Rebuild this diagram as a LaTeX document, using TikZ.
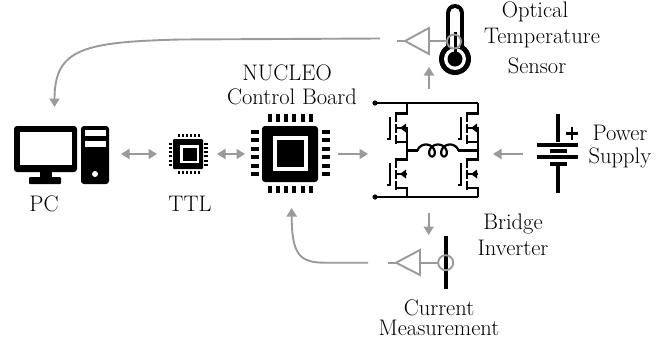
\documentclass[tikz,border=0pt]{standalone}
\usepackage{fontspec}
\usetikzlibrary{arrows.meta}
\definecolor{conn}{HTML}{9A9A9A}
\tikzset{
 lbl/.style={inner sep=0pt,font=\fontsize{22.5}{25}\selectfont,align=center},
 tight/.style={inner sep=0pt,font=\fontsize{22.5}{19.5}\selectfont,align=center},
 link/.style={draw=conn,line width=1.9pt,-{Triangle[length=8.5pt,width=10pt]}},
 duplex/.style={draw=conn,line width=1.9pt,{Triangle[length=8.5pt,width=10pt]}-{Triangle[length=8.5pt,width=10pt]}},
 amp/.style={draw=conn,line width=1.9pt,line join=miter},
 circ/.style={draw=black,line width=2.2pt},
}
\newcommand{\mosfet}[2]{%
 \begin{scope}[shift={(#1,#2)}]
  \draw[circ] (-20,139) -- (-17,139) -- (-17,117);
  \draw[circ] (-11,112) -- (-11,122) (-11,124) -- (-11,133) (-11,135) -- (-11,144);
  \draw[circ] (-11,113.5) -- (0,113.5);
  \draw[circ] (-11,142) -- (0,142);
  \draw[circ] (-11,128) -- (0,128);
  \fill (-7,128) -- (-1,123.5) -- (-1,132.5) -- cycle;
 \end{scope}}
\begin{document}
\begin{tikzpicture}[x=1pt,y=-1pt]
\useasboundingbox (0,0) rectangle (667,341);
% PC
\fill[rounded corners=3pt] (14,126) rectangle (77,172);
\fill[white] (20,132) rectangle (72,165);
\fill (40,172) rectangle (52,178);
\fill[rounded corners=1pt] (29,177) rectangle (61,184);
\fill[rounded corners=3pt] (81,126) rectangle (109,184);
\fill[white] (85,130) rectangle (106,136);
\fill[white] (85,141) rectangle (106,147);
\fill[white] (95,174) circle (3);
\coordinate (pcR) at (121,154);
\coordinate (pcTop) at (54.5,107);
\node[lbl] (pcl) at (44,204) {PC};
% TTL
\fill[rounded corners=1pt] (173,139) rectangle (203,169);
\fill[white] (180,145) rectangle (199,163);
\fill (182.5,147.5) rectangle (196.5,160.5);
\foreach \i in {0,1,2,3,4,5}{
 \fill ({177.5+\i*4},134) rectangle ({179.7+\i*4},137);
 \fill ({177.5+\i*4},171) rectangle ({179.7+\i*4},174);
 \fill (169,{142.5+\i*4.3}) rectangle (172,{144.5+\i*4.3});
 \fill (204,{142.5+\i*4.3}) rectangle (208,{144.5+\i*4.3});
}
\coordinate (ttlL) at (157,154);
\coordinate (ttlR) at (217,154);
\node[lbl] (ttll) at (190,204) {TTL};
% NUCLEO chip
\fill[rounded corners=3pt] (262,126) rectangle (318,182);
\fill[white] (273,136) rectangle (308,171);
\fill (277,140) rectangle (304,167);
\foreach \i in {0,1,2,3,4,5}{
 \fill ({267.5+\i*8.3},114) rectangle ({271.5+\i*8.3},122);
 \fill ({267.5+\i*8.3},186) rectangle ({271.5+\i*8.3},193);
 \fill (251,{130+\i*8.4}) rectangle (259,{134+\i*8.4});
 \fill (322,{130+\i*8.4}) rectangle (330,{134+\i*8.4});
}
\coordinate (chipL) at (245,154);
\coordinate (chipR) at (338,154);
\coordinate (chipB) at (291.7,208);
\node[lbl] (nuc) at (287,73) {NUCLEO};
\node[lbl] (cb) at (292,97) {Control Board};
% Bridge
\fill (375,103) circle (2.6);
\fill (375,197) circle (2.6);
\draw[circ] (375,103) -- (478,103);
\draw[circ] (375,197) -- (478,197);
\draw[circ] (407,103) -- (407,114.6);
\draw[circ] (407,127) -- (407,160.6);
\draw[circ] (407,187) -- (407,197);
\draw[circ] (478,103) -- (478,114.6);
\draw[circ] (478,127) -- (478,160.6);
\draw[circ] (478,187) -- (478,197);
\mosfet{407}{0}
\mosfet{478}{0}
\mosfet{407}{46}
\mosfet{478}{46}
\draw[circ] (407,150.5) -- (418,150.5);
\draw[circ,line join=round] plot[smooth,samples=90,domain=-90:810,variable=\t] ({423+(\t+90)/900*30+5.5*sin(\t)},{150.5-6*cos(\t)});
\draw[circ] (458,150.5) -- (478,150.5);
\coordinate (brL) at (368,154);
\coordinate (brR) at (493,154);
\coordinate (brT) at (429,89);
\coordinate (brB) at (428.7,212.7);
\node[lbl] (br1) at (513,224) {Bridge};
\node[lbl] (br2) at (513,248) {Inverter};
% Thermometer
\fill (446,13) rectangle (464,48);
\fill (455,13) circle (9);
\fill (455,59) circle (16);
\fill[white] (450,13) rectangle (460,48);
\fill[white] (455,13) circle (5);
\fill[white] (455,59) circle (11);
\fill (455,59) circle (7.5);
\fill (454,32) rectangle (457,55);
\coordinate (thT) at (429,67);
\node[lbl] (opt) at (535,12) {Optical};
\node[lbl] (tem) at (542,38) {Temperature};
\node[lbl] (sen) at (537,66) {Sensor};
% Amp 1
\draw[amp] (405,41) -- (429,28) -- (429,54) -- cycle;
\draw[amp] (429,41) -- (447,41);
\draw[amp] (454,41.5) circle (7);
\coordinate (a1out) at (397,41);
\coordinate (a1wire) at (380,38.5);
\draw[amp] (405,41) -- (a1out);
% Battery
\fill (556,114) rectangle (560,142);
\fill (537,142.5) rectangle (578,146.5);
\fill (550,149) rectangle (567,153);
\fill (537,155) rectangle (578,159);
\fill (550,161.5) rectangle (567,165.5);
\fill (556,165) rectangle (560,193);
\fill (566,132) rectangle (578,134.5);
\fill (570.8,127) rectangle (573.2,139.5);
\coordinate (batL) at (523,154);
\node[lbl] (pw1) at (620,133) {Power};
\node[lbl] (pw2) at (620,158) {Supply};
% Current
\fill (444,236) rectangle (448,289);
\draw[amp] (396,262.7) -- (420,250) -- (420,275) -- cycle;
\draw[amp] (420,262.7) -- (438,262.7);
\draw[amp] (445.7,262.7) circle (7.5);
\coordinate (a2out) at (388,262.7);
\coordinate (a2wire) at (368,262.7);
\draw[amp] (396,262.7) -- (a2out);
\coordinate (curT) at (428.7,235);
\node[tight] (cu) at (439,317.5) {Current\\Measurement};
% Connectors
\draw[duplex] (pcR) -- (ttlL);
\draw[duplex] (ttlR) -- (chipL);
\draw[link] (chipR) -- (brL);
\draw[link] (batL) -- (brR);
\draw[link] (brT) -- (thT);
\draw[link] (brB) -- (curT);
\draw[link] (a1wire) -- (180,39.5) .. controls (85,42) and (54.5,48) .. (pcTop);
\draw[link] (a2wire) -- (325,262.7) .. controls (300,262.7) and (291.7,255) .. (chipB);
\end{tikzpicture}
\end{document}
